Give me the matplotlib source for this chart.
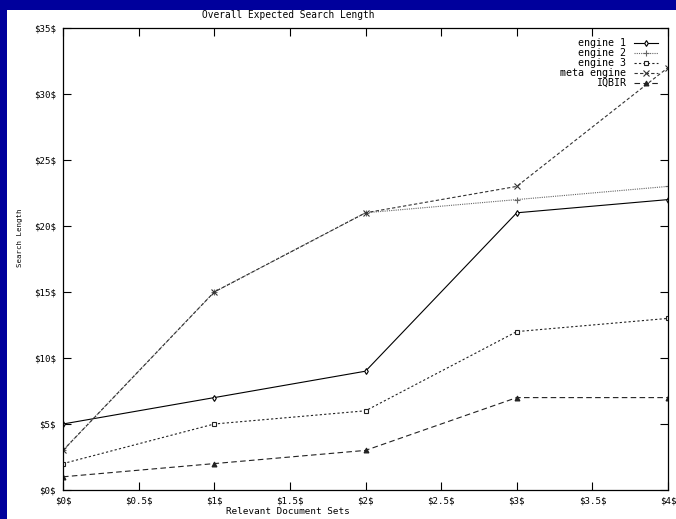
#!/usr/bin/env python3
"""
Overall expected search length for the search engines, IQBIR and the meta engine.

Output:
    out.png
"""

import matplotlib
matplotlib.use("Agg")
import matplotlib.pyplot as plt
from matplotlib.patches import Rectangle


# ============================================================
# Data
# ============================================================

doc_sets = [0, 1, 2, 3, 4]

engine_1 = [5, 7, 9, 21, 22]
engine_2 = [3, 15, 21, 22, 23]
engine_3 = [2, 5, 6, 12, 13]
meta_engine = [3, 15, 21, 23, 32]
iqbir = [1, 2, 3, 7, 7]

x_ticks = [0, 0.5, 1, 1.5, 2, 2.5, 3, 3.5, 4]
y_ticks = [0, 5, 10, 15, 20, 25, 30, 35]


# ============================================================
# Style
# ============================================================

W, H = 676, 519
FONT = "DejaVu Sans Mono"
FS = 6.6
BORDER = "#00009c"


def fx(px):
    return px / W


def fy(py):
    return 1.0 - py / H


def dollar(v):
    # the original labels carry literal dollar signs around the number
    return f"${v:g}$"


def main():
    plt.rcParams["font.family"] = FONT

    fig = plt.figure(figsize=(W / 100, H / 100), dpi=100)
    fig.set_facecolor(BORDER)
    fig.add_artist(Rectangle((fx(7), 0), 1.0, fy(10), transform=fig.transFigure,
                             facecolor="white", edgecolor="none", zorder=-5))

    ax = fig.add_axes([fx(63), fy(490), fx(668) - fx(63), fy(28) - fy(490)])

    series = [
        ("engine 1", engine_1, dict(color="black", linestyle="-", marker="d",
                                    markersize=3, markerfacecolor="white")),
        ("engine 2", engine_2, dict(color="#666666", linestyle=(0, (1, 1)), marker="+",
                                    markersize=5)),
        ("engine 3", engine_3, dict(color="#222222", linestyle=(0, (2, 2)), marker="s",
                                    markersize=3.5, markerfacecolor="white")),
        ("meta engine", meta_engine, dict(color="#333333", linestyle=(0, (3, 2)), marker="x",
                                          markersize=4)),
        ("IQBIR", iqbir, dict(color="#222222", linestyle=(0, (5, 3)), marker="^",
                              markersize=3.5)),
    ]
    for label, values, style in series:
        ax.plot(doc_sets, values, linewidth=0.8, markeredgewidth=0.8, label=label, **style)

    ax.set_xlim(0, 4)
    ax.set_ylim(0, 35)
    ax.set_xticks(x_ticks)
    ax.set_xticklabels([dollar(t) for t in x_ticks], parse_math=False)
    ax.set_yticks(y_ticks)
    ax.set_yticklabels([dollar(t) for t in y_ticks], parse_math=False)
    ax.tick_params(direction="in", length=6, width=0.8, top=True, right=True,
                   labelsize=FS, pad=5)
    for spine in ax.spines.values():
        spine.set_linewidth(0.9)

    ax.legend(loc="upper right", frameon=False, markerfirst=False, fontsize=7.2,
              handlelength=2.4, handletextpad=0.8, labelspacing=0.0,
              borderaxespad=0.6)

    fig.text(fx(288), fy(15), "Overall Expected Search Length", ha="center", va="center",
             fontsize=6.85)
    fig.text(fx(288), fy(512), "Relevant Document Sets", ha="center", va="center",
             fontsize=6.7)
    fig.text(fx(20), fy(238), "Search Length", ha="center", va="center", rotation=90,
             fontsize=5.3)

    fig.savefig("out.png", dpi=100, facecolor=fig.get_facecolor())
    plt.close(fig)


if __name__ == "__main__":
    main()
